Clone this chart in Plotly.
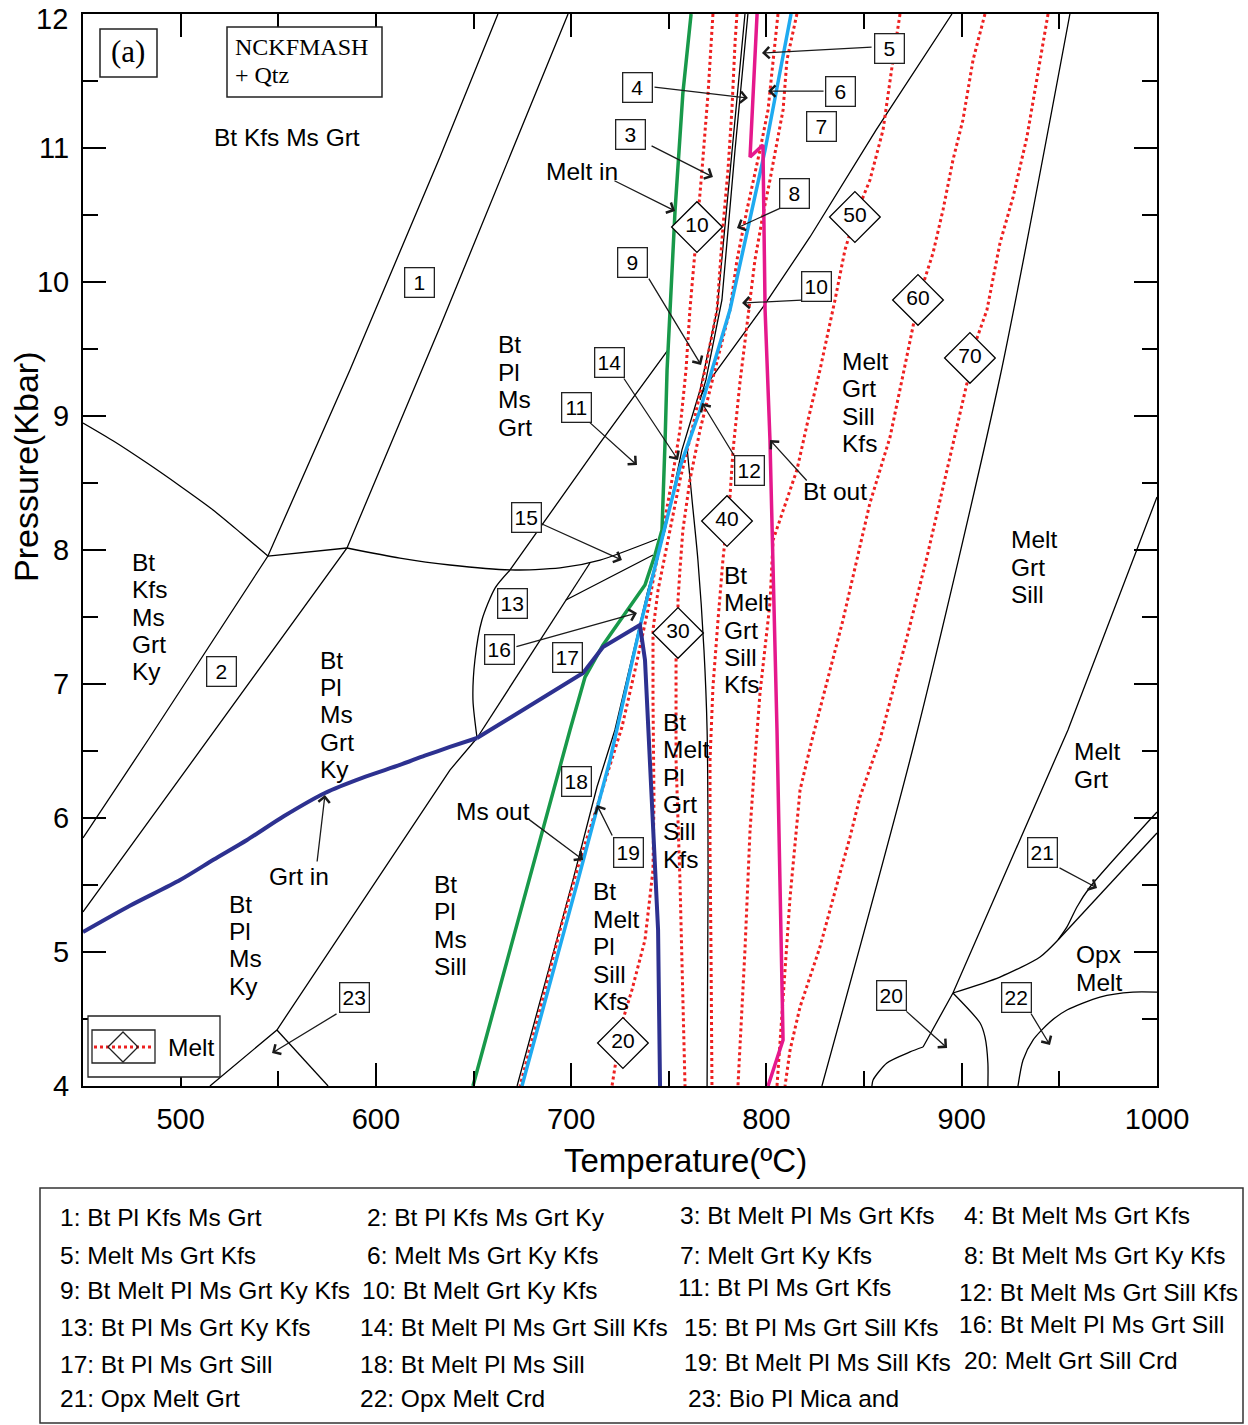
import plotly.graph_objects as go

FONT = "Liberation Sans, Arial, Helvetica, sans-serif"
SERIF = "Liberation Serif, Times New Roman, serif"

T_RANGE = [450, 1000]
P_RANGE = [4, 12]
T_TICKS = [500, 600, 700, 800, 900, 1000]
P_TICKS = [4, 5, 6, 7, 8, 9, 10, 11, 12]
# the top label is drawn separately, nudged inside the page
P_TICKTEXT = ["4", "5", "6", "7", "8", "9", "10", "11", ""]
P_TOP_LABEL = "12"

# ---------------- thin black phase boundaries (T in degC, P in kbar) ----------------
b01_T = [662.5, 632.8, 586.7, 544.7, 483.3, 450.0]
b01_P = [12.0, 10.933, 9.343, 7.955, 6.582, 5.851]
b02_T = [698.4, 632.8, 585.2, 514.0, 450.0]
b02_P = [12.0, 9.664, 8.015, 6.582, 5.299]
b03_T = [450.0, 466.0, 482.8, 499.5, 516.6, 531.0, 544.7]
b03_P = [8.948, 8.810, 8.649, 8.480, 8.299, 8.125, 7.955]
b04_T = [544.7, 585.2]
b04_P = [7.955, 8.015]
b05_T = [585.2, 612.3, 637.9, 668.7, 694.3, 714.8, 744.0]
b05_P = [8.015, 7.940, 7.888, 7.851, 7.866, 7.925, 8.082]
b06_T = [668.7, 661.0, 654.3, 650.7, 649.7, 651.8]
b06_P = [7.851, 7.716, 7.478, 7.179, 6.881, 6.597]
b07_T = [668.7, 714.8, 749.6]
b07_P = [7.851, 8.799, 9.493]
b08_T = [709.6, 651.8]
b08_P = [7.903, 6.597]
b09_T = [697.3, 741.9]
b09_P = [7.627, 7.963]
b10_T = [789.0, 782.3, 774.7, 766.0, 756.7, 748.1, 739.3, 722.4, 713.2, 700.9, 672.3]
b10_P = [12.0, 10.985, 9.791, 9.194, 8.746, 8.149, 7.701, 6.657, 6.231, 5.537, 4.0]
b11_T = [790.5, 783.9, 777.2, 769.0, 766.0]
b11_P = [12.0, 10.985, 9.866, 9.269, 9.119]
b12_T = [759.3, 761.9, 764.9, 768.0, 769.6, 770.1, 769.6]
b12_P = [8.769, 8.373, 7.925, 7.254, 6.657, 5.537, 4.0]
b13_T = [895.0, 856.1, 822.3, 798.2, 771.1, 766.0]
b13_P = [12.0, 11.134, 10.336, 9.813, 9.269, 9.142]
b14_T = [651.8, 637.9, 549.3, 515.0]
b14_P = [6.597, 6.358, 4.418, 4.0]
b15_T = [549.3, 575.5]
b15_P = [4.418, 4.0]
b16_T = [955.4, 919.6, 876.1, 828.4]
b16_P = [12.0, 9.291, 6.582, 4.0]
b17_T = [1000.0, 954.4, 895.5, 880.2]
b17_P = [8.396, 6.657, 4.694, 4.291]
b18_T = [880.2, 873.5, 861.7, 854.6, 854.0]
b18_P = [4.291, 4.254, 4.172, 4.045, 4.0]
b19_T = [895.5, 909.4, 911.9, 913.4, 913.4]
b19_P = [4.694, 4.470, 4.366, 4.172, 4.0]
b20_T = [895.5, 919.6, 940.1, 949.3]
b20_P = [4.694, 4.813, 4.963, 5.090]
b21_T = [949.3, 953.9, 959.0, 965.7, 1000.0]
b21_P = [5.090, 5.187, 5.336, 5.485, 6.045]
b22_T = [949.3, 1000.0]
b22_P = [5.090, 5.888]
b23_T = [928.8, 931.4, 936.5, 945.2, 953.9, 970.8, 987.7, 1000.0]
b23_P = [4.0, 4.194, 4.343, 4.478, 4.567, 4.664, 4.701, 4.701]

# (T, P, smoothed?)
black_lines = [
    (b01_T, b01_P, False), (b02_T, b02_P, False), (b03_T, b03_P, True),
    (b04_T, b04_P, False), (b05_T, b05_P, True), (b06_T, b06_P, True),
    (b07_T, b07_P, False), (b08_T, b08_P, False), (b09_T, b09_P, False),
    (b10_T, b10_P, False), (b11_T, b11_P, False), (b12_T, b12_P, True),
    (b13_T, b13_P, False), (b14_T, b14_P, False), (b15_T, b15_P, False),
    (b16_T, b16_P, True), (b17_T, b17_P, False), (b18_T, b18_P, True),
    (b19_T, b19_P, True), (b20_T, b20_P, True), (b21_T, b21_P, True),
    (b22_T, b22_P, False), (b23_T, b23_P, True),
]

# ---------------- melt isopleths (vol. %) ----------------
iso10_T = [772.6, 770.1, 767.0, 764.4, 760.8, 758.8, 755.7, 751.6, 747.0, 742.9, 739.3,
           732.7, 726.0, 713.2, 704.5, 694.3, 684.0, 673.8]
iso10_P = [12.0, 11.410, 10.836, 10.410, 9.791, 9.343, 8.896, 8.522, 8.149, 7.851, 7.552,
           7.104, 6.679, 6.082, 5.687, 5.164, 4.567, 4.0]
iso20_T = [784.9, 783.9, 782.3, 780.3, 777.7, 774.7, 768.5, 761.9, 755.7, 749.6, 744.5,
           741.9, 741.9, 742.4, 741.9, 737.8, 731.1, 726.0, 720.9]
iso20_P = [12.0, 11.784, 11.284, 10.836, 10.410, 9.791, 9.343, 8.896, 8.522, 8.075, 7.701,
           7.403, 6.881, 6.134, 5.612, 5.090, 4.716, 4.470, 4.0]
iso30_T = [805.9, 803.4, 800.8, 796.7, 790.0, 784.9, 781.3, 773.6, 766.0, 760.8, 757.2,
           755.7, 754.7, 754.7, 753.7, 753.7, 755.7, 758.3]
iso30_P = [12.0, 11.657, 11.284, 10.985, 10.537, 10.164, 9.791, 9.343, 8.896, 8.522, 8.149,
           7.851, 7.627, 7.381, 7.179, 6.433, 5.537, 4.0]
iso40_T = [815.6, 810.5, 808.5, 805.4, 801.8, 798.2, 794.1, 791.6, 789.0, 786.4, 782.9,
           781.3, 779.8, 777.7, 775.2, 772.6, 771.1, 771.1, 771.6, 772.1]
iso40_P = [12.0, 11.657, 11.284, 11.037, 10.761, 10.500, 10.164, 9.866, 9.567, 9.246, 8.746,
           8.396, 8.216, 7.925, 7.478, 6.978, 6.433, 5.761, 5.015, 4.0]
iso50_T = [868.4, 864.8, 859.7, 853.0, 845.3, 840.2, 835.1, 827.4, 821.3, 815.6, 809.5,
           803.4, 801.8, 796.7, 794.1, 791.6, 789.0, 785.4]
iso50_P = [12.0, 11.657, 11.134, 10.761, 10.485, 10.239, 9.866, 9.343, 8.970, 8.597, 8.336,
           8.075, 7.604, 6.933, 6.433, 5.910, 5.015, 4.0]
iso60_T = [911.9, 905.8, 900.6, 895.5, 890.4, 885.3, 877.6, 875.0, 869.4, 863.3, 853.0,
           839.2, 823.3, 817.2, 812.1, 808.5, 805.4]
iso60_P = [12.0, 11.657, 11.209, 10.910, 10.537, 10.216, 9.866, 9.664, 9.269, 8.843, 8.351,
           7.478, 6.582, 6.209, 5.410, 4.664, 4.0]
iso70_T = [944.2, 938.6, 933.4, 926.3, 919.6, 912.9, 904.2, 902.7, 892.5, 882.2, 872.0,
           858.1, 847.9, 842.8, 837.7, 827.4, 817.2, 812.1, 809.5]
iso70_P = [12.0, 11.530, 11.082, 10.634, 10.291, 9.791, 9.433, 9.246, 8.597, 7.948, 7.351,
           6.582, 6.157, 5.858, 5.590, 5.037, 4.590, 4.269, 4.0]
isopleths = [(iso10_T, iso10_P), (iso20_T, iso20_P), (iso30_T, iso30_P), (iso40_T, iso40_P),
             (iso50_T, iso50_P), (iso60_T, iso60_P), (iso70_T, iso70_P)]

# ---------------- coloured reaction lines ----------------
melt_in_T = [761.4, 759.8, 757.2, 753.2, 750.6, 749.1, 748.1, 746.5, 742.9, 737.8, 716.3,
             707.1, 699.4, 649.7]
melt_in_P = [12.0, 11.754, 11.410, 10.537, 9.791, 9.343, 8.821, 8.149, 7.963, 7.739, 7.291,
             7.052, 6.657, 4.0]
ms_out_T = [812.6, 799.3, 781.3, 766.0, 755.7, 744.0, 735.2, 719.9, 703.5, 674.8]
ms_out_P = [12.0, 10.985, 9.791, 9.045, 8.619, 7.925, 7.425, 6.433, 5.537, 4.0]
bt_out_T = [795.2, 791.6, 798.2, 799.3, 801.8, 803.4, 805.4, 806.9, 808.5, 800.8]
bt_out_P = [12.0, 10.933, 11.022, 9.791, 8.821, 7.925, 6.657, 5.537, 4.343, 4.0]
grt_in_a_T = [450.0, 474.0, 499.7, 517.0, 534.0, 553.0, 573.9, 593.0, 612.3, 625.0, 637.9, 651.8]
grt_in_a_P = [5.149, 5.345, 5.537, 5.690, 5.836, 6.015, 6.187, 6.300, 6.396, 6.465, 6.530, 6.597]
grt_in_b_T = [651.8, 706.1, 716.3, 735.2, 737.8, 740.4, 742.9, 744.5, 745.5]
grt_in_b_P = [6.597, 7.082, 7.276, 7.440, 7.179, 6.433, 5.687, 5.164, 4.0]

GREEN = "#18994a"
CYAN = "#1eaaf0"
MAGENTA = "#e5188c"
NAVY = "#2d3190"
RED = "#ee2020"

# ---------------- labels ----------------
DIAMOND_T = [764.4, 726.5, 754.7, 779.8, 845.3, 877.6, 904.2]
DIAMOND_P = [10.410, 4.321, 7.381, 8.216, 10.485, 9.866, 9.433]
DIAMOND_TEXT = ["10", "20", "30", "40", "50", "60", "70"]

FIELD_T = [622.1, 520.7, 730.6, 734.2, 862.8, 837.7, 828.4, 814.6, 731.6, 825.4, 702.5, 791.1,
           669.7, 719.4, 676.9, 663.5, 697.9, 702.5, 729.1, 863.8, 941.6, 927.8, 588.8]
FIELD_P = [10.0, 7.097, 11.104, 11.448, 11.739, 11.425, 11.157, 10.664, 10.142, 9.970, 9.067,
           8.590, 7.604, 9.403, 8.246, 7.261, 7.201, 6.276, 5.739, 4.672, 5.746, 4.664, 4.657]
FIELD_TEXT = [str(i) for i in range(1, 24)]

# arrows: tail T, tail P, head T, head P
ARROWS = [
    (740.4, 11.022, 772.6, 10.784),   # 3
    (741.9, 11.455, 790.5, 11.373),   # 4
    (854.6, 11.754, 797.7, 11.709),   # 5
    (830.0, 11.425, 800.8, 11.425),   # 6
    (808.5, 10.560, 784.9, 10.403),   # 8
    (739.3, 10.037, 766.5, 9.381),    # 9
    (818.7, 9.866, 787.5, 9.843),     # 10
    (708.1, 8.970, 733.7, 8.634),     # 11
    (783.9, 8.694, 767.0, 9.097),     # 12
    (726.5, 9.291, 754.7, 8.672),     # 14
    (684.0, 8.201, 726.0, 7.925),     # 15
    (671.2, 7.276, 733.7, 7.530),     # 16
    (721.4, 5.858, 713.2, 6.097),     # 19
    (870.9, 4.567, 892.5, 4.284),     # 20
    (949.3, 5.634, 969.3, 5.478),     # 21
    (935.0, 4.552, 945.2, 4.306),     # 22
    (580.6, 4.545, 546.8, 4.246),     # 23
    (721.4, 10.761, 753.2, 10.530),   # Melt in
    (821.3, 8.507, 801.8, 8.821),     # Bt out
    (677.4, 6.000, 706.1, 5.687),     # Ms out
    (569.8, 5.664, 573.9, 6.172),     # Grt in
]

CURVE_NAMES = ["Melt in", "Bt out", "Ms out", "Grt in"]
CURVE_NAME_T = [705.5, 835.1, 660.0, 560.6]
CURVE_NAME_P = [10.821, 8.433, 6.045, 5.560]

# assemblage stacks: left T, P of first line, words
ASSEMBLAGES = [
    (474.1, 7.910, ["Bt", "Kfs", "Ms", "Grt", "Ky"]),
    (661.5, 9.530, ["Bt", "Pl", "Ms", "Grt"]),
    (570.3, 7.179, ["Bt", "Pl", "Ms", "Grt", "Ky"]),
    (523.7, 5.358, ["Bt", "Pl", "Ms", "Ky"]),
    (628.7, 5.507, ["Bt", "Pl", "Ms", "Sill"]),
    (837.7, 9.410, ["Melt", "Grt", "Sill", "Kfs"]),
    (777.2, 7.813, ["Bt", "Melt", "Grt", "Sill", "Kfs"]),
    (746.0, 6.716, ["Bt", "Melt", "Pl", "Grt", "Sill", "Kfs"]),
    (710.1, 5.448, ["Bt", "Melt", "Pl", "Sill", "Kfs"]),
    (924.2, 8.075, ["Melt", "Grt", "Sill"]),
    (956.5, 6.493, ["Melt", "Grt"]),
    (957.5, 4.978, ["Opx", "Melt"]),
]
STACK_STEP = 0.205
TOP_FIELD = ("Bt Kfs Ms Grt", 554.5, 11.082)

KEY_TEXT = [
    "1: Bt Pl Kfs Ms Grt", "2: Bt Pl Kfs Ms Grt Ky", "3: Bt Melt Pl Ms Grt Kfs", "4: Bt Melt Ms Grt Kfs",
    "5: Melt Ms Grt Kfs", "6: Melt Ms Grt Ky Kfs", "7: Melt Grt Ky Kfs", "8: Bt Melt Ms Grt Ky Kfs",
    "9: Bt Melt Pl Ms Grt Ky Kfs", "10: Bt Melt Grt Ky Kfs", "11: Bt Pl Ms Grt Kfs", "12: Bt Melt Ms Grt Sill Kfs",
    "13: Bt Pl Ms Grt Ky Kfs", "14: Bt Melt Pl Ms Grt Sill Kfs", "15: Bt Pl Ms Grt Sill Kfs", "16: Bt Melt Pl Ms Grt Sill",
    "17: Bt Pl Ms Grt Sill", "18: Bt Melt Pl Ms Sill", "19: Bt Melt Pl Ms Sill Kfs", "20: Melt Grt Sill Crd",
    "21: Opx Melt Grt", "22: Opx Melt Crd", "23: Bio Pl Mica and",
]
KEY_X = [58, 365, 678, 962, 58, 365, 678, 962, 58, 360, 676, 957, 58, 358, 682, 957,
         58, 358, 682, 962, 58, 358, 686]
KEY_Y = [1217, 1217, 1215, 1215, 1255, 1255, 1255, 1255, 1290, 1290, 1287, 1292,
         1327, 1327, 1327, 1324, 1364, 1364, 1362, 1360, 1398, 1398, 1398]

# ---------------- page geometry (pixels) ----------------
W, H = 1248, 1425
PL, PR, PT, PB = 83, 1157, 14, 1086


def fx(px):
    return (px - PL) / (PR - PL)


def fy(py):
    return (PB - py) / (PB - PT)


fig = go.Figure()


def add_line(T, P, color="black", width=1.3, dash=None, smooth=False):
    line = dict(color=color, width=width)
    if dash:
        line["dash"] = dash
    if smooth:
        line["shape"] = "spline"
        line["smoothing"] = 0.7
    fig.add_trace(go.Scatter(x=T, y=P, mode="lines", line=line,
                             hoverinfo="skip", showlegend=False))


for T, P, sm in black_lines:
    add_line(T, P, smooth=sm)
for T, P in isopleths:
    add_line(T, P, color=RED, width=3, dash="dot")
add_line(melt_in_T, melt_in_P, color=GREEN, width=3.5)
add_line(ms_out_T, ms_out_P, color=CYAN, width=3.5)
add_line(bt_out_T, bt_out_P, color=MAGENTA, width=3.5)
add_line(grt_in_a_T, grt_in_a_P, color=NAVY, width=4, smooth=True)
add_line(grt_in_b_T, grt_in_b_P, color=NAVY, width=4)

fig.add_trace(go.Scatter(
    x=DIAMOND_T, y=DIAMOND_P, mode="markers+text", text=DIAMOND_TEXT,
    textposition="middle center", textfont=dict(family=FONT, size=21, color="black"),
    marker=dict(symbol="diamond", size=39, color="white", line=dict(color="black", width=1.3)),
    hoverinfo="skip", showlegend=False))


def paper_text(px, py, text, size, family=FONT, xanchor="center", angle=0):
    return dict(x=fx(px), y=fy(py), xref="paper", yref="paper", text=text, showarrow=False,
                xanchor=xanchor, yanchor="middle", textangle=angle,
                font=dict(family=family, size=size, color="black"))


ann = []
for tT, tP, hT, hP in ARROWS:
    ann.append(dict(x=hT, y=hP, ax=tT, ay=tP, xref="x", yref="y", axref="x", ayref="y",
                    text="", showarrow=True, arrowhead=4, arrowsize=1.7, arrowwidth=1.3,
                    arrowcolor="#1a1a1a", standoff=0, startstandoff=0))
for t, x, y in zip(FIELD_TEXT, FIELD_T, FIELD_P):
    ann.append(dict(x=x, y=y, xref="x", yref="y", text=t, showarrow=False,
                    xanchor="center", yanchor="middle",
                    font=dict(family=FONT, size=21, color="black"),
                    bgcolor="white", bordercolor="#222", borderwidth=1.3,
                    width=26, height=26, borderpad=1))
for t, x, y in zip(CURVE_NAMES, CURVE_NAME_T, CURVE_NAME_P):
    ann.append(dict(x=x, y=y, xref="x", yref="y", text=t, showarrow=False,
                    xanchor="center", yanchor="middle",
                    font=dict(family=FONT, size=24.5, color="black")))
for x, y, words in ASSEMBLAGES:
    for i, w in enumerate(words):
        ann.append(dict(x=x, y=y - i * STACK_STEP, xref="x", yref="y", text=w, showarrow=False,
                        xanchor="left", yanchor="middle",
                        font=dict(family=FONT, size=24.5, color="black")))
ann.append(dict(x=TOP_FIELD[1], y=TOP_FIELD[2], xref="x", yref="y", text=TOP_FIELD[0],
                showarrow=False, xanchor="center", yanchor="middle",
                font=dict(family=FONT, size=24.5, color="black")))

# top pressure label, kept inside the page
ann.append(paper_text(70, 19, P_TOP_LABEL, 29, xanchor="right"))

# axis titles
ann.append(paper_text(685, 1160, "Temperature(ºC)", 33))
ann.append(paper_text(26, 467, "Pressure(Kbar)", 34, angle=-90))

# panel tag and system box
ann.append(paper_text(128, 52, "(a)", 31, family=SERIF))
ann.append(paper_text(233, 47, "NCKFMASH", 24, family=SERIF, xanchor="left"))
ann.append(paper_text(233, 75, "+ Qtz", 24, family=SERIF, xanchor="left"))

# melt key inside the plot
ann.append(paper_text(166, 1047, "Melt", 24.5, xanchor="left"))

# assemblage key below the plot
for t, x, y in zip(KEY_TEXT, KEY_X, KEY_Y):
    ann.append(paper_text(x, y, t, 24.5, xanchor="left"))

shapes = [
    dict(type="rect", xref="paper", yref="paper", x0=fx(100), x1=fx(157), y0=fy(77), y1=fy(29),
         line=dict(color="#222", width=1.5), fillcolor="white", layer="above"),
    dict(type="rect", xref="paper", yref="paper", x0=fx(227), x1=fx(382), y0=fy(97), y1=fy(27),
         line=dict(color="#222", width=1.5), fillcolor="white", layer="above"),
    dict(type="rect", xref="paper", yref="paper", x0=fx(88), x1=fx(220), y0=fy(1077), y1=fy(1016),
         line=dict(color="#222", width=1.3), fillcolor="white", layer="above"),
    dict(type="rect", xref="paper", yref="paper", x0=fx(92), x1=fx(155), y0=fy(1063), y1=fy(1030),
         line=dict(color="#222", width=1.3), fillcolor="white", layer="above"),
    dict(type="line", xref="paper", yref="paper", x0=fx(94), x1=fx(153), y0=fy(1047), y1=fy(1047),
         line=dict(color=RED, width=3, dash="dot"), layer="above"),
    dict(type="path", xref="paper", yref="paper", layer="above",
         path=f"M {fx(108)},{fy(1047)} L {fx(123)},{fy(1032)} L {fx(138)},{fy(1047)} "
              f"L {fx(123)},{fy(1062)} Z",
         line=dict(color="#222", width=1.3)),
    dict(type="rect", xref="paper", yref="paper", x0=fx(40), x1=fx(1243), y0=fy(1423), y1=fy(1188),
         line=dict(color="#333", width=1.5), fillcolor="rgba(0,0,0,0)"),
]

axis_common = dict(
    showline=True, linecolor="black", linewidth=2, mirror="ticks",
    ticks="inside", ticklen=23, tickwidth=1.5, tickcolor="black",
    showgrid=False, zeroline=False, ticklabeloverflow="allow", automargin=False,
    tickfont=dict(family=FONT, size=29, color="black"),
)

fig.update_layout(
    width=W, height=H,
    margin=dict(l=PL, r=W - PR, t=PT, b=H - PB, pad=0, autoexpand=False),
    paper_bgcolor="white", plot_bgcolor="white",
    xaxis=dict(range=T_RANGE, tickvals=T_TICKS, ticklabelstandoff=6,
               minor=dict(ticks="inside", ticklen=15, tickwidth=1.5, tickcolor="black",
                          dtick=50, tick0=450, showgrid=False),
               **axis_common),
    yaxis=dict(range=P_RANGE, tickvals=P_TICKS, ticktext=P_TICKTEXT, ticklabelstandoff=6,
               minor=dict(ticks="inside", ticklen=15, tickwidth=1.5, tickcolor="black",
                          dtick=0.5, tick0=4, showgrid=False),
               **axis_common),
    annotations=ann,
    shapes=shapes,
    showlegend=False,
)

fig.write_html("out.html")
